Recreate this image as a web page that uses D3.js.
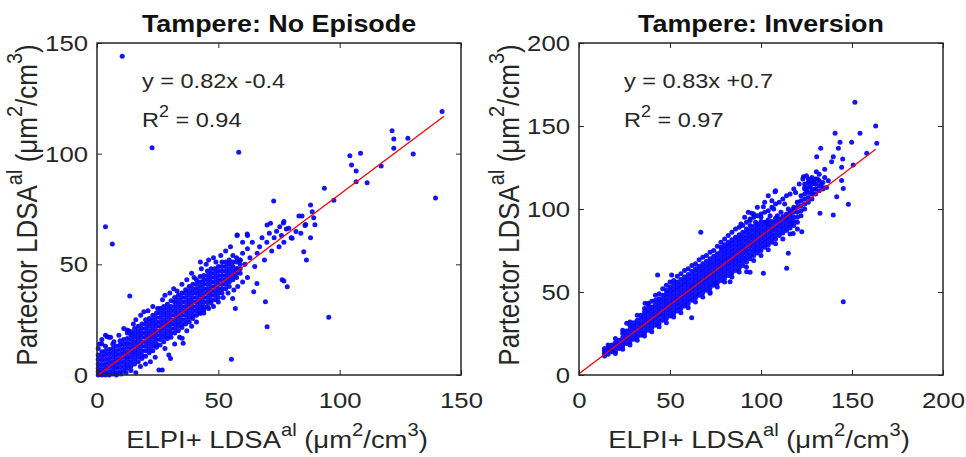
<!DOCTYPE html>
<html>
<head>
<meta charset="utf-8">
<script src="https://cdn.jsdelivr.net/npm/d3@7"></script>
<style>
  body { margin: 0; background: #fff; }
  svg text { font-family: Arial, 'Liberation Sans', sans-serif; fill: #262626; }
</style>
</head>
<body>
<div class="chart"></div>
<script>
// --- left panel: Tampere, no episode ---
var leftTitle = 'Tampere: No Episode';
var leftEq = 'y = 0.82x -0.4';
var leftR2 = '0.94';
var leftFit = [0.82, -0.4];
var leftFitRange = [0, 143];
var leftTicks = [0, 50, 100, 150];

// dense core read column by column: [x, [y...]]
var leftCols = [
  [0.5, [0, 1.5, 3, 5, 7, 9, 12]],
  [2, [0, 1, 2.5, 4.5, 6.5, 8.5, 10.5, 14]],
  [3.5, [0, 1, 3, 5, 7, 9, 11, 13]],
  [5, [0, 1.5, 3.5, 5.5, 7.5, 9.5, 11.5]],
  [6.5, [0.5, 2, 4, 6, 8, 10, 12, 14]],
  [8, [1, 3, 5, 7, 9, 11, 13]],
  [9.5, [1.5, 3.5, 5.5, 7.5, 9.5, 11.5, 13.5, 15.5]],
  [11, [2, 4, 6, 8, 10, 12, 14, 16]],
  [12.5, [3, 5, 7, 8.5, 10.5, 12.5, 14.5, 16.5, 19]],
  [14, [4, 6, 8, 10, 12, 14, 16, 18, 19.5]],
  [15.5, [5, 7, 9, 11, 13, 15, 17, 19, 21]],
  [17, [6, 8, 10, 12, 14, 16, 18, 20, 22]],
  [18.5, [7.5, 9, 11, 13, 15, 17, 19, 21, 23]],
  [20, [8.5, 11, 13, 15, 17, 19, 21, 23, 25]],
  [21.5, [10, 12, 14, 16, 18, 20, 22, 24, 25.5]],
  [23, [11, 13, 15, 17, 19, 21, 23, 25, 27]],
  [24.5, [12.5, 14, 16, 18, 20, 22, 24, 26, 28]],
  [26, [13.5, 16, 18, 20, 22, 24, 26, 28, 30]],
  [27.5, [15, 17, 19, 21, 23, 25, 27, 29, 31]],
  [29, [16.5, 18, 20, 22, 24, 26, 28, 30, 32]],
  [30.5, [17, 19, 21, 23, 25, 27, 29, 31, 33.5]],
  [32, [19, 21, 23, 25, 27, 29, 31, 33, 35]],
  [33.5, [20, 22, 24, 26, 28, 30, 32, 34, 36]],
  [35, [21.5, 23, 25, 27, 29, 31, 33, 35, 37]],
  [36.5, [23, 25, 27, 29, 31, 33, 35, 37, 38.5]],
  [38, [24, 26, 28, 30, 32, 34, 36, 38, 40]],
  [39.5, [25.5, 27, 29, 31, 33, 35, 37, 39, 41]],
  [41, [27, 29, 31, 33, 35, 37, 39, 41, 43]],
  [42.5, [28, 30, 32, 34, 36, 38, 40, 42, 44.5]],
  [44, [29.5, 31, 33, 35, 37, 39, 41, 43, 45]],
  [45.5, [31, 33, 35, 37, 39, 41, 43, 45, 47]],
  [47, [32.5, 34, 36, 38, 40, 42, 44, 46, 48]],
  [48.5, [34, 36, 38, 40, 42, 44, 46, 48]],
  [50, [35, 37, 39, 41, 43, 45, 47, 49]],
  [51.5, [37, 39, 41, 43, 45, 47, 49, 51]],
  [53, [39, 41, 43, 45, 47, 49, 51]],
  [54.5, [40, 42, 44, 46, 48, 50, 52]],
  [56, [43, 45, 47, 49, 51]],
  [57.5, [44, 46, 48, 51, 53]],
  [59, [46, 48, 50, 52]]
];

// loose points around the core and outliers: [x, y]
var leftLoose = [
  [1, 14], [2, 16], [3.5, 18], [5, 17], [4.2, 17.3], [5.6, 17], [7, 15], [9, 18], [11, 21],
  [12.4, 20.3], [13, 20], [15, 23], [16, 25], [18, 27], [19.3, 28.6], [21, 29], [23, 31],
  [25, 30], [27, 34], [28, 36], [30, 37], [31.6, 39], [33, 38], [35, 41], [37, 43], [39, 46],
  [40, 44], [42.6, 51], [43, 48], [45, 50], [46, 52], [48, 53], [49, 51], [51, 54], [53, 56],
  [55, 58], [56, 54], [57.7, 63], [60, 60], [62, 63],
  [8, 0], [10, 0.5], [12, 1], [14, 2], [16, 1], [17.9, 3.8], [20, 5], [22, 6], [25.5, 2.3],
  [26.9, 2.3], [24, 8], [28, 12], [29.6, 9], [30.3, 7.5], [32, 14], [35.1, 16.6], [35.5, 14.3],
  [34, 17], [37, 20], [39, 22], [41, 24], [42.6, 27.9], [44, 28], [46, 30], [48, 31], [50, 33],
  [52, 35], [54, 37], [56.4, 38.4], [57, 30.1], [55.9, 34.6], [58, 40], [60, 42], [62, 44],
  [64.6, 37.6], [65.9, 41.3],
  [58, 48], [59, 52], [60, 55], [61, 50], [62, 57], [63, 53], [64, 60], [65, 49], [66, 55],
  [67, 58], [68, 62], [69, 52], [70, 60], [71, 64], [72, 56], [73, 62], [74, 65], [75, 58],
  [76, 63], [77, 60], [78, 66], [80, 62], [82, 64.8], [80.4, 61.8], [84, 64], [86, 68],
  [88, 62], [61.9, 63.7], [57.8, 63.3], [70.1, 67.8], [71.5, 68.6], [76.8, 68.7], [77, 69.3],
  [79, 66.3], [75.3, 67], [83.2, 71.8], [84.5, 71.8], [88.7, 73.8], [88, 76.8], [89.3, 71.1],
  [89.8, 67.9], [85.7, 67.5], [85.2, 55.7], [86.3, 52], [77, 42.5], [78.4, 39.9], [76.3, 43],
  [69.4, 33.1], [70.1, 21.8], [95.5, 26.1], [55.4, 7.1], [72.8, 78.6], [93.7, 84.4],
  [97.6, 78.9], [104.2, 99.1], [108.6, 100.2], [104.9, 94.9], [106.8, 92.2], [106.8, 87.3],
  [111.3, 86.9], [117.1, 94.4], [121.6, 110.3], [122.3, 106.6], [122.3, 102.4], [128.1, 107],
  [130.3, 99.9], [139.5, 80], [142.2, 119], [58.4, 100.6], [22.7, 102.7], [10.4, 144],
  [3.5, 67], [6.3, 59.2], [13.5, 35.7]
];

// --- right panel: Tampere, inversion ---
var rightTitle = 'Tampere: Inversion';
var rightEq = 'y = 0.83x +0.7';
var rightR2 = '0.97';
var rightFit = [0.83, 0.7];
var rightFitRange = [0, 163];
var rightTicks = [0, 50, 100, 150, 200];

var rightCols = [
  [14, [11.5, 13, 14.5, 16]],
  [16, [12.5, 14.5, 16.5]],
  [18, [14, 16, 18]],
  [20, [14.5, 17, 19.5]],
  [22, [16, 18.5, 21]],
  [24, [17.5, 20, 22.5, 25]],
  [26, [19, 21.5, 24, 26.5]],
  [28, [20, 22.5, 25, 27.5, 30]],
  [30, [21.5, 24, 26.5, 29, 31.5]],
  [32, [23, 25.5, 28, 30.5, 33]],
  [34, [24, 26.5, 29, 31.5, 34, 36]],
  [36, [25.5, 28, 30.5, 33, 35.5, 38]],
  [38, [27, 29.5, 32, 34.5, 37, 39.5]],
  [40, [28.5, 31, 33.5, 36, 38.5, 41]],
  [42, [30, 32.5, 35, 37.5, 40, 42.5, 45]],
  [44, [31, 33.5, 36, 38.5, 41, 43.5, 46]],
  [46, [33, 35.5, 38, 40.5, 43, 45.5, 48]],
  [48, [34, 36.5, 39, 41.5, 44, 46.5, 49, 51]],
  [50, [35.5, 38, 40.5, 43, 45.5, 48, 50.5, 53]],
  [52, [37, 39.5, 42, 44.5, 47, 49.5, 52, 54.5]],
  [54, [38.5, 41, 43.5, 46, 48.5, 51, 53.5, 56]],
  [56, [40, 42.5, 45, 47.5, 50, 52.5, 55, 57.5]],
  [58, [41.5, 44, 46.5, 49, 51.5, 54, 56.5, 59]],
  [60, [43, 45.5, 48, 50.5, 53, 55.5, 58, 60.5]],
  [62, [45, 47.5, 50, 52.5, 55, 57.5, 60, 62.5]],
  [64, [46.5, 49, 51.5, 54, 56.5, 59, 61.5, 64]],
  [66, [48, 50.5, 53, 55.5, 58, 60.5, 63, 65.5]],
  [68, [49.5, 52, 54.5, 57, 59.5, 62, 64.5, 67]],
  [70, [51, 53.5, 56, 58.5, 61, 63.5, 66, 68.5]],
  [72, [52.5, 55, 57.5, 60, 62.5, 65, 67.5, 70]],
  [74, [54, 56.5, 59, 61.5, 64, 66.5, 69, 71.5]],
  [76, [55.5, 58, 60.5, 63, 65.5, 68, 70.5, 73]],
  [78, [57, 59.5, 62, 64.5, 67, 69.5, 72, 74.5, 77]],
  [80, [58.5, 61, 63.5, 66, 68.5, 71, 73.5, 76, 78.5]],
  [82, [60, 62.5, 65, 67.5, 70, 72.5, 75, 77.5, 80]],
  [84, [61.5, 64, 66.5, 69, 71.5, 74, 76.5, 79, 81.5]],
  [86, [63, 65.5, 68, 70.5, 73, 75.5, 78, 80.5, 83]],
  [88, [64.5, 67, 69.5, 72, 74.5, 77, 79.5, 82, 84.5]],
  [90, [66, 68.5, 71, 73.5, 76, 78.5, 81, 83.5, 86]],
  [92, [68, 70.5, 73, 75.5, 78, 80.5, 83, 85.5, 88]],
  [94, [70, 72.5, 75, 77.5, 80, 82.5, 85, 87.5, 90]],
  [96, [72, 74.5, 77, 79.5, 82, 84.5, 87, 89.5]],
  [98, [73.5, 76, 78.5, 81, 83.5, 86, 88.5, 91]],
  [100, [75, 77.5, 80, 82.5, 85, 87.5, 90, 92.5]],
  [102, [77, 79.5, 82, 84.5, 87, 89.5, 92]],
  [104, [78.5, 81, 83.5, 86, 88.5, 91, 93.5]],
  [106, [80, 82.5, 85, 87.5, 90, 92.5]],
  [108, [82, 84.5, 87, 89.5, 92, 94.5]],
  [110, [84, 86.5, 89, 91.5, 94]],
  [112, [85.5, 88, 90.5, 93, 95.5]],
  [114, [87, 89.5, 92, 94.5, 97]],
  [116, [88.5, 91, 93.5, 96, 99]],
  [118, [90, 92.5, 95, 98, 101]],
  [120, [92, 95, 98, 101, 104]],
  [122, [96, 99, 102, 105]],
  [124, [100, 103, 106, 109, 112, 115]],
  [126, [104, 107, 110, 113, 116, 118]],
  [128, [106, 109, 112, 115, 117]],
  [130, [109, 112, 115, 118]],
  [132, [111, 114, 117]],
  [134, [113, 116]]
];

var rightLoose = [
  [16, 18], [20, 22], [24, 27], [28, 32], [32, 36], [36, 40], [38, 42], [40, 44.5], [42, 48],
  [44, 49], [46, 52], [48, 54], [50, 56], [52, 57], [54, 59.5], [56, 61], [58, 63], [60, 64],
  [62, 66], [64, 67], [66, 69.5], [68, 71], [70, 72], [72, 74], [74, 75], [76, 77.5], [78, 80],
  [80, 82], [82, 84], [84, 86], [86, 88], [88, 89], [90, 90], [92, 92], [94, 94], [96, 95],
  [98, 96], [100, 97], [102, 98], [104, 99], [106, 101], [108, 103], [110, 104], [112, 106],
  [114, 108], [116, 109], [118, 112],
  [20, 13], [24, 15.5], [28, 18], [32, 21], [36, 23.5], [40, 26], [44, 29], [48, 31.5],
  [52, 35], [56, 37.5], [60, 40.5], [64, 44], [68, 47], [72, 50], [76, 53], [80, 56], [84, 59],
  [88, 62], [92, 65], [96, 69], [100, 72], [104, 75.5], [108, 79], [112, 82], [116, 85], [120, 88],
  [94, 93], [96, 97], [98, 101], [100, 95], [102, 104], [104, 108], [106, 105], [108, 111],
  [91, 95], [93, 98], [97, 92], [89, 91],
  [125, 111], [127, 114], [129, 116], [131, 118], [133, 115], [130, 112], [128, 119], [126, 116],
  [135, 119], [132, 121], [124, 113], [122, 108], [120, 104], [118, 100], [116, 97], [114, 95],
  [119, 110], [121, 115], [123, 118], [125, 120], [137, 117], [134, 112], [136, 113], [128, 110],
  [117, 92], [115, 100], [113, 103], [111, 98], [109, 96], [107, 100], [105, 96], [103, 92],
  [107.7, 110.4], [101.3, 101.4], [94.9, 97.4], [115, 73.3], [114.1, 64.3], [101.3, 61.3],
  [94, 61.9], [92.1, 62.2], [83, 56.2], [74.7, 55.2], [72, 49.2], [61.9, 34.5], [43.2, 60.2],
  [50.9, 60.2], [66.9, 86], [36.3, 43.2], [38.1, 43.2], [26.2, 31.1], [145.2, 44.2],
  [117.7, 85.3], [122.4, 86.3], [148, 102.8], [139.7, 96.4], [132.4, 97.4], [141.6, 107.4],
  [145.2, 112.4], [144.3, 117.1], [144.3, 125.1], [144.9, 130.1], [139.7, 131.5], [138.8, 128.5],
  [130.6, 131.5], [132.8, 136.6], [142.5, 136.6], [143.4, 140.2], [149.8, 140.2], [140.7, 145.6],
  [154.4, 145.6], [163, 150], [163.6, 139.6], [158.1, 133.6], [150.7, 126.5], [151.6, 164.3],
  [123.3, 119.5], [130.4, 122.5], [135, 124]
];

var width = 966,
  height = 457,
  stretch = 1.12; // the original's lettering is a little wider than tall

var svgEl = d3
  .select('.chart')
  .append('svg')
  .attr('width', width)
  .attr('height', height);

function flatten(cols, loose) {
  var pts = [];
  cols.forEach((c) => c[1].forEach((y) => pts.push([c[0], y])));
  return pts.concat(loose);
}

// superscript-aware label: parts are [text, isSup]
function richText(sel, parts, size) {
  var sup = Math.round(size * 0.75);
  var up = false;
  parts.forEach((p) => {
    var t = sel.append('tspan').text(p[0]);
    if (p[1]) {
      t.attr('font-size', sup).attr('dy', -size * 0.5);
      up = true;
    } else {
      t.attr('font-size', size);
      if (up) t.attr('dy', size * 0.5);
      up = false;
    }
  });
}

function placed(g, x, y) {
  return g.append('text')
    .attr('transform', 'translate(' + x + ',' + y + ') scale(' + stretch + ',1)');
}

function drawPanel(o) {
  var x = d3.scaleLinear().domain(o.domain).range([o.left, o.right]);
  var y = d3.scaleLinear().domain(o.domain).range([o.bottom, o.top]);
  var g = svgEl.append('g');

  // points
  g.selectAll('circle')
    .data(o.points)
    .enter()
    .append('circle')
    .attr('cx', (d) => x(d[0]))
    .attr('cy', (d) => y(d[1]))
    .attr('r', 2.5)
    .style('fill', '#0000ff')
    .style('opacity', 0.92);

  // fit line
  g.append('line')
    .attr('x1', x(o.fitRange[0]))
    .attr('y1', y(o.fit[0] * o.fitRange[0] + o.fit[1]))
    .attr('x2', x(o.fitRange[1]))
    .attr('y2', y(o.fit[0] * o.fitRange[1] + o.fit[1]))
    .style('stroke', '#ff0000')
    .style('stroke-width', 1.3);

  // axes, ticks inward
  var xb = g.append('g')
    .attr('transform', 'translate(0,' + o.bottom + ')')
    .call(d3.axisBottom(x).tickValues(o.ticks).tickSizeInner(-5).tickSizeOuter(0).tickPadding(17));
  var yl = g.append('g')
    .attr('transform', 'translate(' + o.left + ',0)')
    .call(d3.axisLeft(y).tickValues(o.ticks).tickSizeInner(-5).tickSizeOuter(0).tickPadding(8));
  var xt = g.append('g')
    .attr('transform', 'translate(0,' + o.top + ')')
    .call(d3.axisTop(x).tickValues(o.ticks).tickSizeInner(-5).tickSizeOuter(0).tickFormat(''));
  var yr = g.append('g')
    .attr('transform', 'translate(' + o.right + ',0)')
    .call(d3.axisRight(y).tickValues(o.ticks).tickSizeInner(-5).tickSizeOuter(0).tickFormat(''));
  [xb, yl, xt, yr].forEach((a) => {
    a.select('.domain').remove();
    a.selectAll('line').style('stroke', '#262626');
    a.selectAll('text')
      .attr('transform', 'scale(' + stretch + ',1)')
      .style('font-size', '23px')
      .style('fill', '#262626')
      .style('font-family', 'Arial, "Liberation Sans", sans-serif');
  });

  g.append('rect')
    .attr('x', o.left)
    .attr('y', o.top)
    .attr('width', o.right - o.left)
    .attr('height', o.bottom - o.top)
    .style('fill', 'none')
    .style('stroke', '#262626')
    .style('stroke-width', 1.5);

  // title
  placed(g, (o.left + o.right) / 2, 32)
    .attr('text-anchor', 'middle')
    .style('font-size', '24px')
    .style('font-weight', 'bold')
    .style('fill', '#111')
    .text(o.title);

  // equation and R2
  placed(g, o.left + 45, 88)
    .style('font-size', '21px')
    .text(o.eq);
  richText(
    placed(g, o.left + 45, 127),
    [['R', false], ['2', true], [' = ' + o.r2, false]],
    21
  );

  // axis labels
  richText(
    placed(g, (o.left + o.right) / 2 - 2, 448).attr('text-anchor', 'middle'),
    [['ELPI+ LDSA', false], ['al', true], [' (\u03bcm', false], ['2', true], ['/cm', false], ['3', true], [')', false]],
    24.5
  );
  richText(
    g.append('text')
      .attr('transform', 'translate(' + (o.left - 60) + ',' + 205 +
        ') rotate(-90) scale(1,' + stretch + ')')
      .attr('text-anchor', 'middle'),
    [['Partector LDSA', false], ['al', true], [' (\u03bcm', false], ['2', true], ['/cm', false], ['3', true], [')', false]],
    26
  );
}

drawPanel({
  left: 97, right: 461, top: 43, bottom: 375,
  domain: [0, 150], ticks: leftTicks,
  points: flatten(leftCols, leftLoose),
  fit: leftFit, fitRange: leftFitRange,
  title: leftTitle, eq: leftEq, r2: leftR2
});

drawPanel({
  left: 579, right: 943, top: 43, bottom: 375,
  domain: [0, 200], ticks: rightTicks,
  points: flatten(rightCols, rightLoose),
  fit: rightFit, fitRange: rightFitRange,
  title: rightTitle, eq: rightEq, r2: rightR2
});
</script>
</body>
</html>
